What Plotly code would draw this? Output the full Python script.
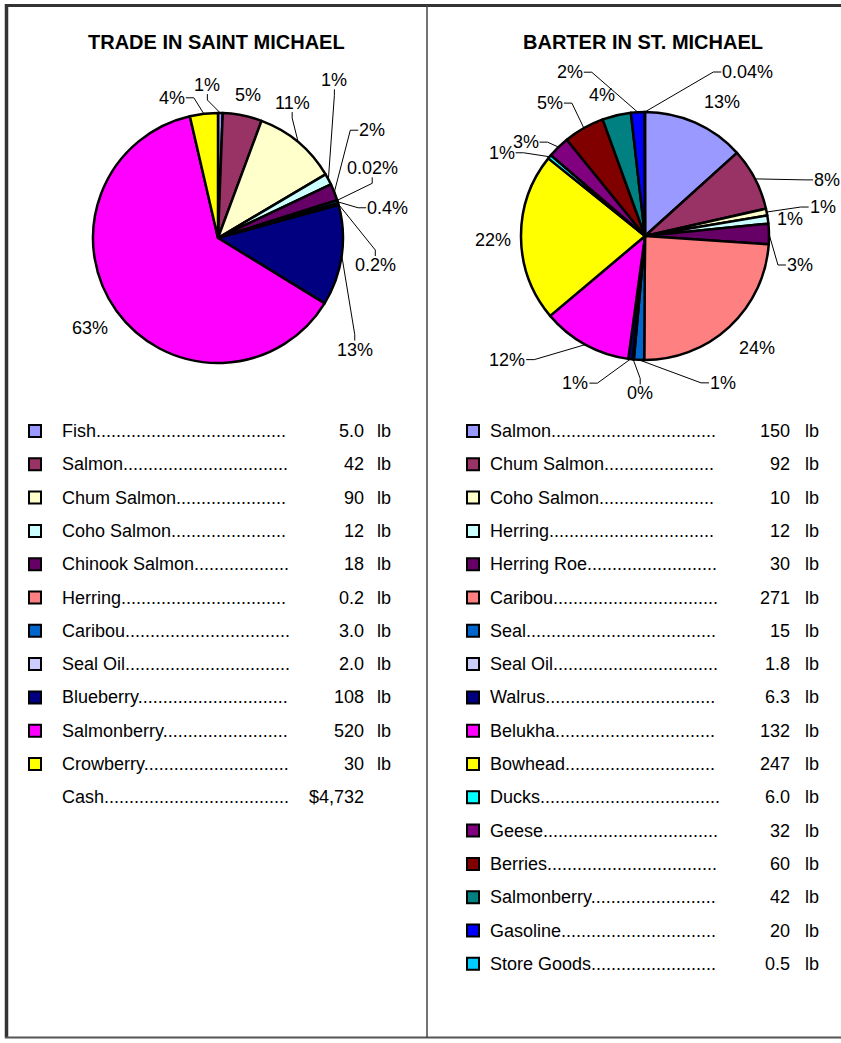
import math
import plotly.graph_objects as go

W, H = 841, 1043

# ---------------- data ----------------
trade_items = ["Fish", "Salmon", "Chum Salmon", "Coho Salmon", "Chinook Salmon", "Herring",
               "Caribou", "Seal Oil", "Blueberry", "Salmonberry", "Crowberry"]
trade_lb = [5.0, 42, 90, 12, 18, 0.2, 3.0, 2.0, 108, 520, 30]
trade_val_text = ["5.0", "42", "90", "12", "18", "0.2", "3.0", "2.0", "108", "520", "30"]
trade_pct_text = ["1%", "5%", "11%", "1%", "2%", "0.02%", "0.4%", "0.2%", "13%", "63%", "4%"]
trade_cash_label = "Cash"
trade_cash_text = "$4,732"

barter_items = ["Salmon", "Chum Salmon", "Coho Salmon", "Herring", "Herring Roe", "Caribou",
                "Seal", "Seal Oil", "Walrus", "Belukha", "Bowhead", "Ducks", "Geese",
                "Berries", "Salmonberry", "Gasoline", "Store Goods"]
barter_lb = [150, 92, 10, 12, 30, 271, 15, 1.8, 6.3, 132, 247, 6.0, 32, 60, 42, 20, 0.5]
barter_val_text = ["150", "92", "10", "12", "30", "271", "15", "1.8", "6.3", "132", "247",
                   "6.0", "32", "60", "42", "20", "0.5"]
barter_pct_text = ["13%", "8%", "1%", "1%", "3%", "24%", "1%", "0%", "1%", "12%", "22%",
                   "1%", "3%", "5%", "4%", "2%", "0.04%"]

titles = ["TRADE IN SAINT MICHAEL", "BARTER IN ST. MICHAEL"]

# ---------------- styles ----------------
trade_colors = ["#9999FF", "#993366", "#FFFFCC", "#CCFFFF", "#660066", "#FF8080",
                "#0066CC", "#CCCCFF", "#000080", "#FF00FF", "#FFFF00"]
barter_colors = ["#9999FF", "#993366", "#FFFFCC", "#CCFFFF", "#660066", "#FF8080",
                 "#0066CC", "#CCCCFF", "#000080", "#FF00FF", "#FFFF00", "#00FFFF",
                 "#800080", "#800000", "#008080", "#0000FF", "#00CCFF"]

# label offsets from the slice's mid-arc point (px) and leader style
trade_label_layout = [(-13, -28, 'v'), (6, -20, ''), (-6, -39, 'v'), (6, -99, 'v'),
                      (38, -62, 'h'), (35, -32, 'v'), (50, 6, 'h'), (37, 61, 'v'),
                      (13, 94, 'v'), (-27, 17, ''), (-32, -16, 'h')]
barter_label_layout = [(27, -21, ''), (72, 1, 'h'), (56, -5, 'h'), (22, -1, ''),
                       (31, 31, 'h'), (28, 21, ''), (84, 23, 'h'), (7, 34, 'v'),
                       (-55, 24, 'h'), (-78, 15, 'h'), (-28, 3, ''), (-48, -4, 'h'),
                       (-33, -5, 'h'), (-34, -25, 'h'), (-15, -20, ''), (-68, -40, 'h'),
                       (103, -40, 'h')]

FONT = "Liberation Sans, Arial, sans-serif"
FS = 18
LBL_FS = 18
TITLE_FS = 20

AW = {' ': 278, '.': 278, ',': 278, '%': 889, '$': 556, 'F': 611, 'S': 667, 'C': 722,
      'H': 722, 'R': 722, 'O': 778, 'B': 667, 'W': 944, 'G': 778, 'i': 222, 'l': 222,
      'm': 833, 'r': 333, 'c': 500, 'k': 500, 's': 500, 'y': 500, 'w': 722, 't': 278,
      'f': 278, 'j': 222}


def text_w(s, fs):
    return sum(AW.get(ch, 556) for ch in s) * fs / 1000.0


fig = go.Figure()

pies = [
    dict(cx=218, cy=238, r=125, vals=trade_lb, colors=trade_colors, pct=trade_pct_text,
         lay=trade_label_layout, names=trade_items),
    dict(cx=645, cy=236, r=124, vals=barter_lb, colors=barter_colors, pct=barter_pct_text,
         lay=barter_label_layout, names=barter_items),
]

annotations = []
for p in pies:
    cx, cy, r = p["cx"], p["cy"], p["r"]
    fig.add_trace(go.Pie(
        labels=p["names"], values=p["vals"], sort=False, direction="clockwise", rotation=0,
        marker=dict(colors=p["colors"], line=dict(color="black", width=2.5)),
        textinfo="none", hoverinfo="label+value", showlegend=False,
        domain=dict(x=[(cx - r) / W, (cx + r) / W], y=[1 - (cy + r) / H, 1 - (cy - r) / H]),
    ))
    total = float(sum(p["vals"]))
    cum = 0.0
    for v, txt, (dx, dy, mode) in zip(p["vals"], p["pct"], p["lay"]):
        mid = (cum + v / 2.0) / total * 2 * math.pi
        cum += v
        rx = cx + r * math.sin(mid)
        ry = cy - r * math.cos(mid)
        lx, ly = rx + dx, ry + dy
        annotations.append(dict(x=lx, y=ly, xref="x", yref="y", text=txt, showarrow=False,
                                xanchor="center", yanchor="middle",
                                font=dict(family=FONT, size=LBL_FS, color="black")))
        if mode:
            hw = text_w(txt, LBL_FS) / 2 + 1
            if mode == 'h':
                sgn = 1 if dx > 0 else -1
                ax = lx - sgn * hw
                pts = [(ax, ly), (ax - sgn * 8, ly), (rx, ry)]
            else:
                sgn = 1 if dy > 0 else -1
                ay = ly - sgn * 9
                pts = [(lx, ay), (lx, ay - sgn * 6), (rx, ry)]
            fig.add_trace(go.Scatter(x=[q[0] for q in pts], y=[q[1] for q in pts], mode="lines",
                                     line=dict(color="black", width=1), hoverinfo="skip",
                                     showlegend=False))

# ---------------- titles ----------------
for t, tx in zip(titles, [216, 643]):
    annotations.append(dict(x=tx, y=42, xref="x", yref="y", text="<b>%s</b>" % t,
                            showarrow=False, xanchor="center", yanchor="middle",
                            font=dict(family=FONT, size=TITLE_FS, color="black")))

# ---------------- legend tables ----------------
ROW0, STEP = 431, 33.3
tables = [
    dict(names=trade_items, vals=trade_val_text, colors=trade_colors, sq=35, nx=60,
         dots_end=289, vx=366, ux=375, cash=True),
    dict(names=barter_items, vals=barter_val_text, colors=barter_colors, sq=473, nx=488,
         dots_end=717, vx=792, ux=803, cash=False),
]
dot_w = text_w(".", FS)
for tb in tables:
    n = len(tb["names"])
    ys = [ROW0 + i * STEP for i in range(n)]
    fig.add_trace(go.Scatter(x=[tb["sq"]] * n, y=ys, mode="markers", hoverinfo="skip",
                             showlegend=False,
                             marker=dict(symbol="square", size=12, color=tb["colors"],
                                         line=dict(color="black", width=2))))
    rows = list(zip(tb["names"], tb["vals"], ["lb"] * n))
    if tb["cash"]:
        rows.append((trade_cash_label, trade_cash_text, ""))
    for i, (nm, vt, unit) in enumerate(rows):
        y = ROW0 + i * STEP
        nd = int((tb["dots_end"] - tb["nx"] - text_w(nm, FS)) / dot_w)
        annotations.append(dict(x=tb["nx"], y=y, xref="x", yref="y", text=nm + "." * nd,
                                showarrow=False, xanchor="left", yanchor="middle",
                                font=dict(family=FONT, size=FS, color="black")))
        annotations.append(dict(x=tb["vx"], y=y, xref="x", yref="y", text=vt,
                                showarrow=False, xanchor="right", yanchor="middle",
                                font=dict(family=FONT, size=FS, color="black")))
        if unit:
            annotations.append(dict(x=tb["ux"], y=y, xref="x", yref="y", text=unit,
                                    showarrow=False, xanchor="left", yanchor="middle",
                                    font=dict(family=FONT, size=FS, color="black")))

# ---------------- frame ----------------
shapes = [
    dict(type="line", xref="x", yref="y", x0=5, x1=W, y0=5.5, y1=5.5,
         line=dict(color="#333333", width=3)),
    dict(type="line", xref="x", yref="y", x0=6.5, x1=6.5, y0=4, y1=1038,
         line=dict(color="#333333", width=3.5)),
    dict(type="line", xref="x", yref="y", x0=5, x1=W, y0=1037.5, y1=1037.5,
         line=dict(color="#555555", width=2)),
    dict(type="line", xref="x", yref="y", x0=427, x1=427, y0=5, y1=1038,
         line=dict(color="#444444", width=1.5)),
]

fig.update_layout(
    width=W, height=H, margin=dict(l=0, r=0, t=0, b=0),
    paper_bgcolor="white", plot_bgcolor="rgba(0,0,0,0)",
    xaxis=dict(range=[0, W], domain=[0, 1], visible=False, fixedrange=True),
    yaxis=dict(range=[H, 0], domain=[0, 1], visible=False, fixedrange=True),
    annotations=annotations, shapes=shapes, showlegend=False,
)

fig.write_html("out.html", config={"displayModeBar": False},
               post_script="document.body.style.margin='0';document.body.style.overflow='hidden';")
